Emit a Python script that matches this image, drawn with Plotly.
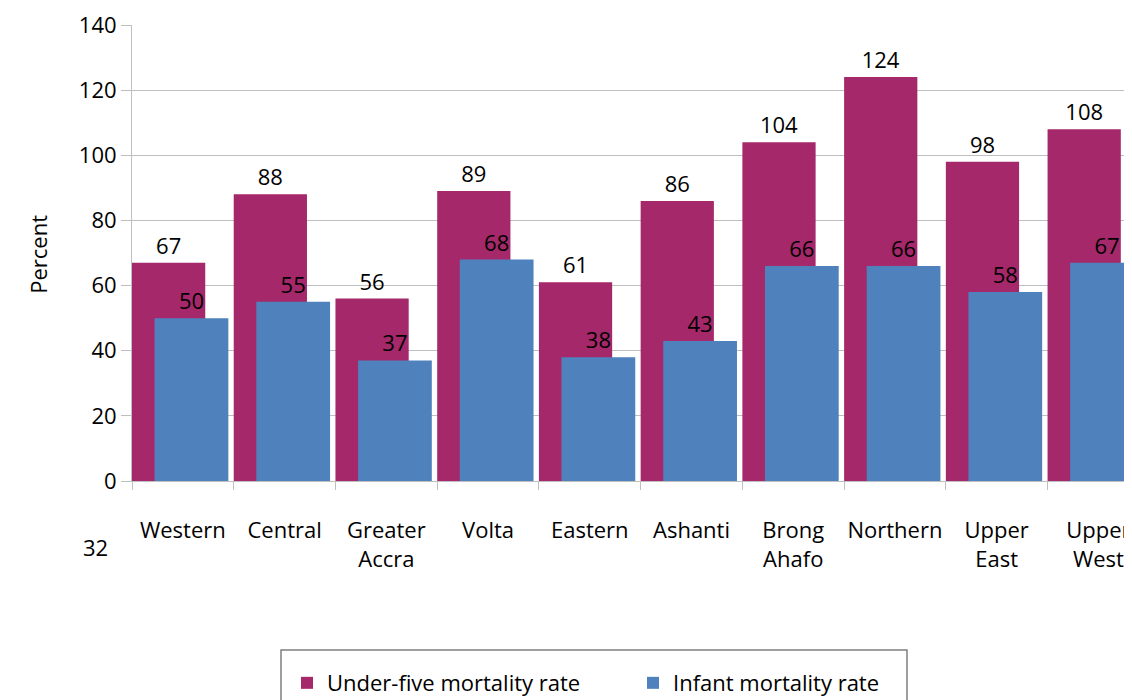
import plotly.graph_objects as go

regions = ["Western", "Central", "Greater<br>Accra", "Volta", "Eastern", "Ashanti",
           "Brong<br>Ahafo", "Northern", "Upper<br>East", "Upper<br>West"]
under_five = [67, 88, 56, 89, 61, 86, 104, 124, 98, 108]
infant = [50, 55, 37, 68, 38, 43, 66, 66, 58, 67]

FONT = "Open Sans"
FS = 22
MAGENTA = "#A5286A"
BLUE = "#4F81BD"

fig = go.Figure()

fig.add_trace(go.Bar(
    x=regions, y=under_five, name="Under-five mortality rate",
    marker=dict(color=MAGENTA, line=dict(width=0)),
    offset=-0.5, width=0.72,
    text=under_five, textposition="outside", cliponaxis=False,
    textfont=dict(size=FS, color="black", family=FONT),
    constraintext="none",
))

fig.add_trace(go.Bar(
    x=regions, y=infant, name="Infant mortality rate",
    marker=dict(color=BLUE, line=dict(width=0)),
    offset=-0.278, width=0.725,
    text=infant, textposition="outside", cliponaxis=False,
    textfont=dict(size=FS, color="black", family=FONT),
    constraintext="none",
))

fig.add_annotation(text="Percent", textangle=-90, x=-0.094, y=0.496,
                   xref="paper", yref="paper", xanchor="center", yanchor="middle",
                   showarrow=False, font=dict(size=FS, color="black", family=FONT))
fig.add_annotation(text="32", x=-0.037, y=-0.145, xref="paper", yref="paper",
                   xanchor="center", yanchor="middle",
                   showarrow=False, font=dict(size=FS, color="black", family=FONT))

# legend frame (runs off the bottom of the page in the original)
fig.add_shape(type="rect", xref="paper", yref="paper",
              x0=0.149, x1=0.775, y0=-0.3706, y1=-0.7,
              line=dict(color="#7F7F7F", width=1.5), fillcolor="rgba(0,0,0,0)")

fig.update_layout(
    width=1124, height=692,
    barmode="overlay",
    margin=dict(l=124, r=0, t=17, b=219, autoexpand=False),
    plot_bgcolor="white", paper_bgcolor="white",
    font=dict(family=FONT, size=FS, color="black"),
    showlegend=True,
    legend=dict(
        orientation="h", x=0.155, y=-0.397, xanchor="left", yanchor="top",
        borderwidth=0, bgcolor="rgba(0,0,0,0)",
        font=dict(size=FS, family=FONT),
        entrywidth=301, entrywidthmode="pixels",
    ),
    xaxis=dict(
        range=[-0.5, 9.33], showgrid=False, showline=True, linecolor="#BFBFBF",
        ticks="outside", tickson="boundaries", ticklen=8, tickcolor="#BFBFBF",
        tickangle=0, ticklabelstandoff=30, tickfont=dict(size=FS, family=FONT),
    ),
    yaxis=dict(
        range=[0, 140], dtick=20, showgrid=True, gridcolor="#BFBFBF",
        showline=True, linecolor="#BFBFBF", zeroline=False,
        ticks="outside", ticklen=10, tickcolor="#BFBFBF",
        tickfont=dict(size=FS, family=FONT),
    ),
)

fig.write_html("out.html")
